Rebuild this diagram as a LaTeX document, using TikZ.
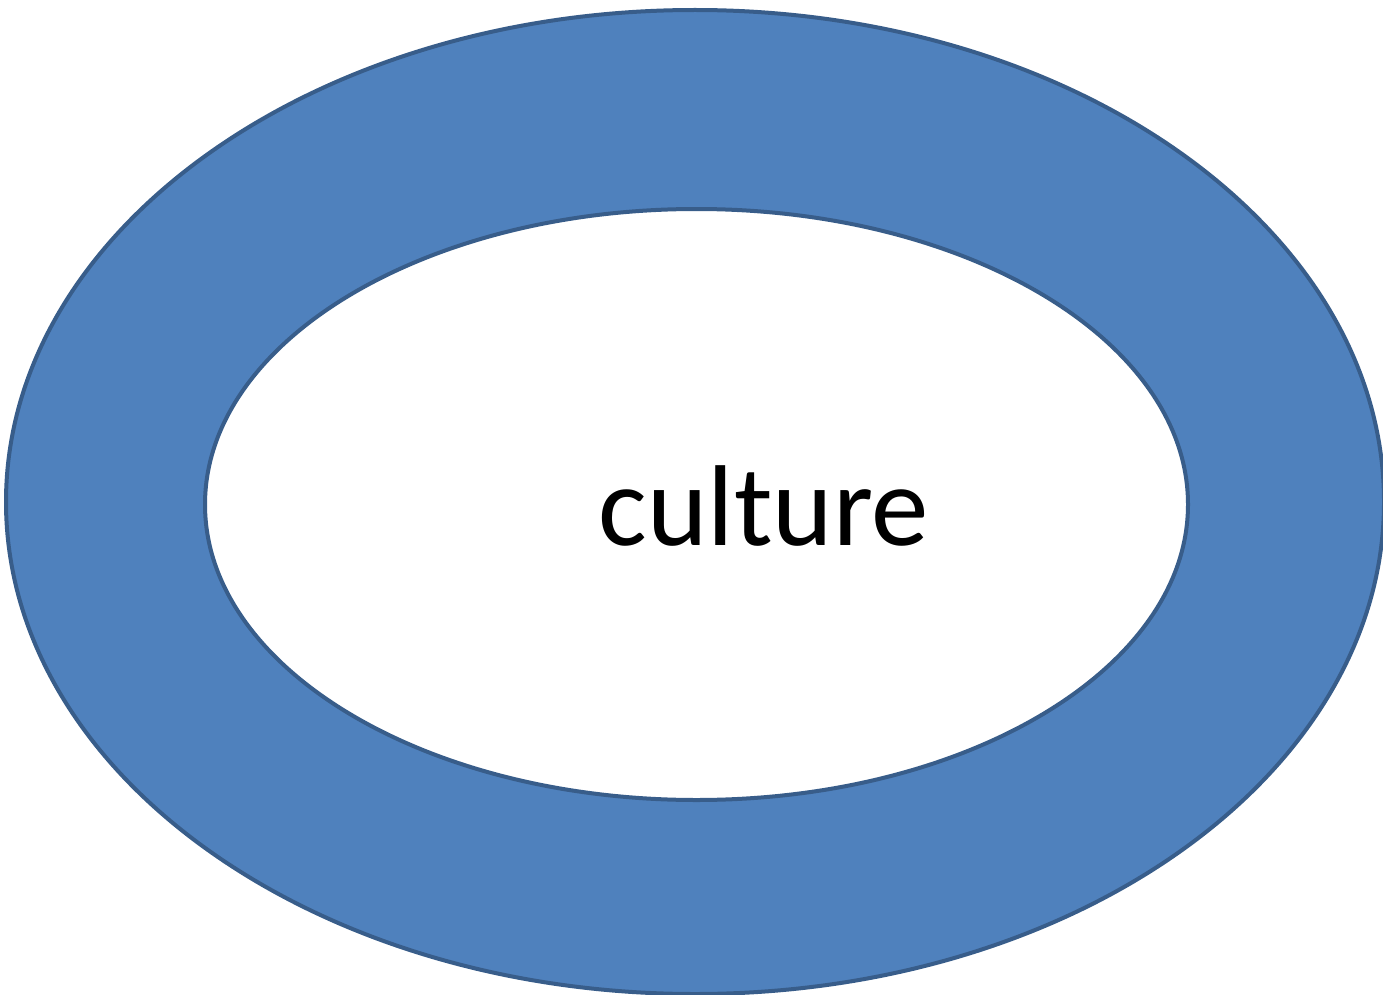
\documentclass[tikz,border=0pt]{standalone}
\usepackage{fontspec}
\setmainfont{Carlito}
\definecolor{ringfill}{HTML}{4F81BD}
\definecolor{ringline}{HTML}{385D8A}
\begin{document}
\begin{tikzpicture}[x=1pt,y=-1pt,
  ring/.style={draw=ringline,line width=4pt},
  label/.style={font=\fontsize{115}{138}\selectfont,text=black,inner sep=0pt}]
\useasboundingbox (0,0) rectangle (1383,995);
\clip (0,0) rectangle (1383,995);
\fill[white] (0,0) rectangle (1383,995);
\draw[ring,fill=ringfill] (695,502) ellipse [x radius=689, y radius=492];
\draw[ring,fill=white] (696.5,504.5) ellipse [x radius=491.5, y radius=295.5];
\node[label,anchor=base] (t) at (764,545) {culture};
\end{tikzpicture}
\end{document}
